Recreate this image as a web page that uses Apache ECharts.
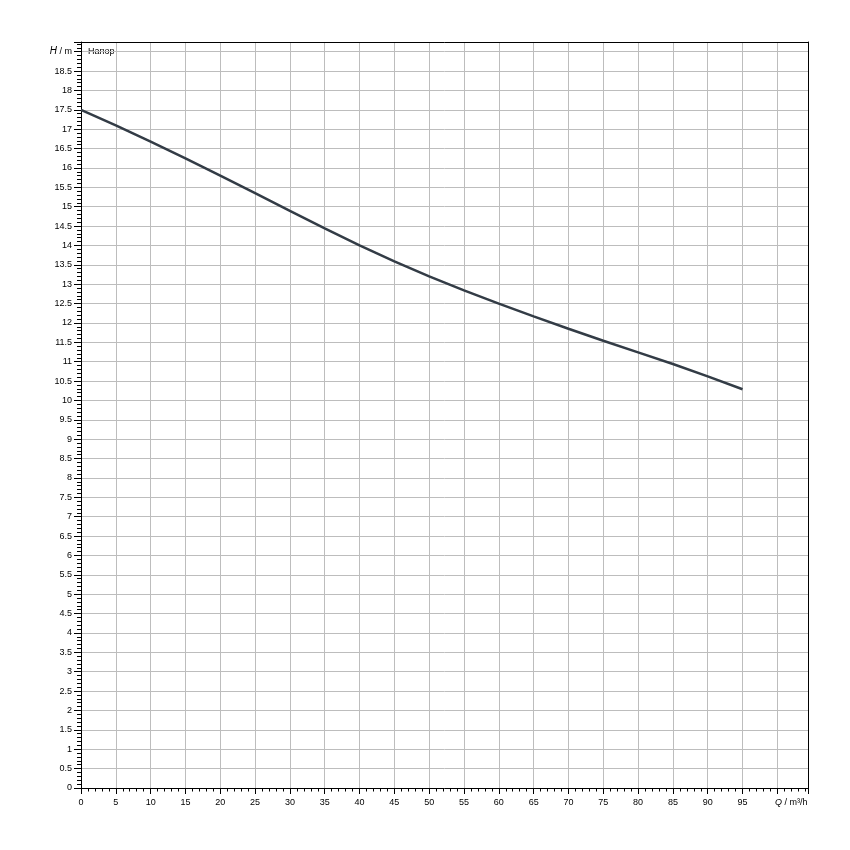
<!DOCTYPE html>
<html>
<head>
<meta charset="utf-8">
<script src="https://cdn.jsdelivr.net/npm/echarts@6/dist/echarts.min.js"></script>
<style>html,body{margin:0;padding:0;background:#fff}#c{width:850px;height:850px}</style>
</head>
<body>
<div id="c"></div>
<script>
const flowQ = [0, 5, 10, 15, 20, 25, 30, 35, 40, 45, 50, 55, 60, 65, 70, 75, 80, 85, 90, 95];
const headH = [17.5, 17.1, 16.68, 16.25, 15.8, 15.35, 14.89, 14.44, 14.0, 13.59, 13.2, 12.84, 12.5, 12.17, 11.85, 11.54, 11.24, 10.94, 10.62, 10.29];
const seriesName = 'Напор';
const xTitle = ['Q', ' / m³/h'];
const yTitle = ['H', ' / m'];

const chart = echarts.init(document.getElementById('c'), null, {renderer: 'canvas'});
const font = 'Liberation Sans, Arial, sans-serif';
const isMult = (v, s) => Math.abs(v / s - Math.round(v / s)) < 1e-6;
const X_MAX = 104.4, Y_MAX = 19.25;

chart.setOption({
  animation: false,
  backgroundColor: '#fff',
  grid: {left: 81, right: 42, top: 42, bottom: 62, show: false, containLabel: false},
  xAxis: [{
    type: 'value', min: 0, max: X_MAX, interval: 5,
    axisLine: {show: true, onZero: false, lineStyle: {color: '#000', width: 1}},
    axisTick: {show: true, length: 6, lineStyle: {color: '#000', width: 1}},
    minorTick: {show: true, splitNumber: 5, length: 3.5, lineStyle: {color: '#000', width: 1}},
    splitLine: {show: true, lineStyle: {color: '#bdbdbd', width: 1}},
    axisLabel: {
      color: '#000', fontSize: 9, fontFamily: font, margin: 10,
      showMaxLabel: false,
      formatter: v => {
        if (Math.abs(v - 100) < 1e-6) return '{p|}{i|' + xTitle[0] + '}{n|' + xTitle[1] + '}';
        if (!isMult(v, 5)) return '';
        return String(v);
      },
      rich: {
        p: {width: 28},
        i: {fontStyle: 'italic', fontSize: 9, fontFamily: font, color: '#000'},
        n: {fontSize: 9, fontFamily: font, color: '#000'}
      }
    }
  }, {
    type: 'value', position: 'top', min: 0, max: X_MAX,
    axisLine: {show: true, onZero: false, lineStyle: {color: '#000', width: 1}},
    axisTick: {show: false}, axisLabel: {show: false}, splitLine: {show: false}
  }],
  yAxis: [{
    type: 'value', min: 0, max: Y_MAX, interval: 0.5,
    axisLine: {show: true, onZero: false, lineStyle: {color: '#000', width: 1}},
    axisTick: {show: true, length: 7, lineStyle: {color: '#000', width: 1}},
    minorTick: {show: true, splitNumber: 5, length: 4, lineStyle: {color: '#000', width: 1}},
    splitLine: {show: true, lineStyle: {color: '#bdbdbd', width: 1}},
    axisLabel: {
      color: '#000', fontSize: 9, fontFamily: font, margin: 9,
      showMaxLabel: false,
      formatter: v => {
        if (Math.abs(v - 19) < 1e-6) return '{i|' + yTitle[0] + '}{n|' + yTitle[1] + '}';
        if (!isMult(v, 0.5)) return '';
        return String(v);
      },
      rich: {
        i: {fontStyle: 'italic', fontSize: 10, fontFamily: font, color: '#000'},
        n: {fontSize: 9, fontFamily: font, color: '#000'}
      }
    }
  }, {
    type: 'value', position: 'right', min: 0, max: Y_MAX,
    axisLine: {show: true, onZero: false, lineStyle: {color: '#000', width: 1}},
    axisTick: {show: false}, axisLabel: {show: false}, splitLine: {show: false}
  }],
  graphic: [{
    type: 'text', left: 88, top: 47,
    style: {text: seriesName, fill: '#000', font: '9px ' + font}
  }],
  series: [{
    name: seriesName, type: 'line', showSymbol: false, smooth: false,
    xAxisIndex: 0, yAxisIndex: 0,
    data: flowQ.map((q, i) => [q, headH[i]]),
    lineStyle: {color: '#333c46', width: 2.5},
    z: 5
  }]
});
</script>
</body>
</html>
